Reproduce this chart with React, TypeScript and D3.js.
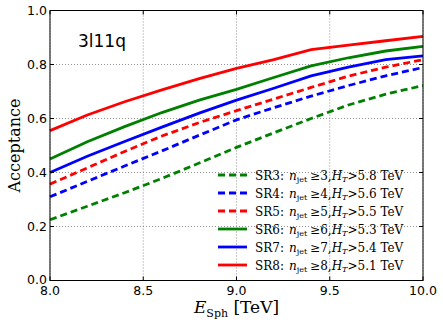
import React from "react";
import * as d3 from "d3";

const energies = [8.0, 8.2, 8.4, 8.6, 8.8, 9.0, 9.2, 9.4, 9.6, 9.8, 10.0];

const sr3 = [0.225, 0.275, 0.325, 0.378, 0.435, 0.493, 0.547, 0.6, 0.65, 0.69, 0.722];
const sr4 = [0.31, 0.367, 0.424, 0.48, 0.538, 0.595, 0.64, 0.683, 0.722, 0.758, 0.789];
const sr5 = [0.357, 0.417, 0.478, 0.535, 0.585, 0.629, 0.672, 0.715, 0.757, 0.79, 0.818];
const sr6 = [0.45, 0.514, 0.57, 0.622, 0.668, 0.708, 0.752, 0.795, 0.825, 0.85, 0.867];
const sr7 = [0.4, 0.46, 0.515, 0.568, 0.62, 0.668, 0.712, 0.758, 0.79, 0.818, 0.832];
const sr8 = [0.555, 0.613, 0.662, 0.706, 0.748, 0.786, 0.818, 0.855, 0.872, 0.888, 0.904];

const seriesNames = ["SR3", "SR4", "SR5", "SR6", "SR7", "SR8"];
const nJet = ["3", "4", "5", "6", "7", "8"];
const htCut = ["5.8", "5.6", "5.5", "5.3", "5.4", "5.1"];
const colors = ["#008000", "#0000ff", "#ff0000", "#008000", "#0000ff", "#ff0000"];
const dashed = [true, true, true, false, false, false];
const values = [sr3, sr4, sr5, sr6, sr7, sr8];

const xTicks = [8.0, 8.5, 9.0, 9.5, 10.0];
const yTicks = [0.0, 0.2, 0.4, 0.6, 0.8, 1.0];

const W = 443;
const H = 327;
const m = { left: 50, right: 20, top: 10.5, bottom: 46.5 };

export default function App() {
  const x = d3.scaleLinear().domain([8, 10]).range([m.left, W - m.right]);
  const y = d3.scaleLinear().domain([0, 1]).range([H - m.bottom, m.top]);
  const line = d3
    .line<number>()
    .x((_, i) => x(energies[i]))
    .y((d) => y(d));

  const sans = "DejaVu Sans, sans-serif";
  const serif = "DejaVu Serif, serif";

  return (
    <svg width={W} height={H} style={{ position: "absolute", left: 0, top: 0, background: "#fff" }}>
      <rect x={0} y={0} width={W} height={H} fill="#fff" />
      {/* grid */}
      {xTicks.map((t) => (
        <line key={"gx" + t} x1={x(t)} x2={x(t)} y1={y(0)} y2={y(1)} stroke="#777" strokeWidth={0.8} strokeDasharray="1,2" />
      ))}
      {yTicks.map((t) => (
        <line key={"gy" + t} x1={x(8)} x2={x(10)} y1={y(t)} y2={y(t)} stroke="#777" strokeWidth={0.8} strokeDasharray="1,2" />
      ))}

      {/* series */}
      {values.map((v, i) => (
        <path
          key={seriesNames[i]}
          d={line(v) || ""}
          fill="none"
          stroke={colors[i]}
          strokeWidth={2.8}
          strokeDasharray={dashed[i] ? "7,4" : undefined}
        />
      ))}

      {/* frame and ticks */}
      <rect x={x(8)} y={y(1)} width={x(10) - x(8)} height={y(0) - y(1)} fill="none" stroke="#000" strokeWidth={1} />
      {xTicks.map((t) => (
        <g key={"tx" + t}>
          <line x1={x(t)} x2={x(t)} y1={y(0)} y2={y(0) - 4} stroke="#000" />
          <line x1={x(t)} x2={x(t)} y1={y(1)} y2={y(1) + 4} stroke="#000" />
          <text x={x(t)} y={y(0) + 14} textAnchor="middle" fontFamily={sans} fontSize={12.5}>
            {t.toFixed(1)}
          </text>
        </g>
      ))}
      {yTicks.map((t) => (
        <g key={"ty" + t}>
          <line x1={x(8)} x2={x(8) + 4} y1={y(t)} y2={y(t)} stroke="#000" />
          <line x1={x(10)} x2={x(10) - 4} y1={y(t)} y2={y(t)} stroke="#000" />
          <text x={x(8) - 3} y={y(t) + (t === 0 ? 3 : 4.5)} textAnchor="end" fontFamily={sans} fontSize={12.5}>
            {t.toFixed(1)}
          </text>
        </g>
      ))}

      {/* annotation */}
      <text x={78} y={47} fontFamily={sans} fontSize={17}>
        3l11q
      </text>

      {/* axis labels */}
      <text x={(x(8) + x(10)) / 2} y={313} textAnchor="middle" fontFamily={serif} fontSize={17}>
        <tspan fontStyle="italic">E</tspan>
        <tspan fontSize={11} dy={4}>Sph</tspan>
        <tspan dy={-4}> [TeV]</tspan>
      </text>
      <text
        transform={`translate(20,${(y(0) + y(1)) / 2}) rotate(-90)`}
        textAnchor="middle"
        fontFamily={serif}
        fontSize={16}
      >
        Acceptance
      </text>

      {/* legend */}
      {seriesNames.map((name, i) => {
        const ly = 175 + i * 18;
        return (
          <g key={"lg" + name}>
            <line
              x1={218}
              x2={247}
              y1={ly}
              y2={ly}
              stroke={colors[i]}
              strokeWidth={2.8}
              strokeDasharray={dashed[i] ? "7,4" : undefined}
            />
            <text x={255} y={ly + 4.5} fontFamily={serif} fontSize={12}>
              <tspan>{name}:</tspan>
              <tspan dx={5} fontStyle="italic">n</tspan>
              <tspan fontSize={8} dy={2.5}>jet</tspan>
              <tspan dy={-2.5} dx={3}>≥{nJet[i]},</tspan>
              <tspan fontStyle="italic">H</tspan>
              <tspan fontSize={8} dy={2.5} fontStyle="italic">T</tspan>
              <tspan dy={-2.5}>&gt;{htCut[i]} TeV</tspan>
            </text>
          </g>
        );
      })}
    </svg>
  );
}
